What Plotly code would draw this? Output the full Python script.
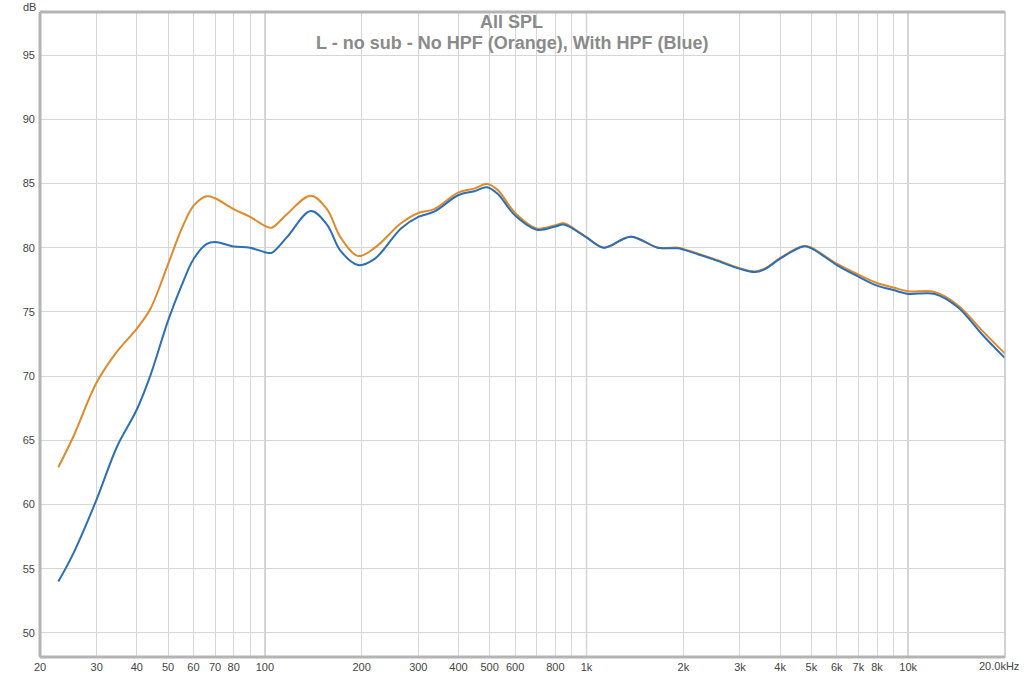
import plotly.graph_objects as go

# frequency points (Hz)
freq = [22.8, 25.4, 30, 34.7, 40, 44, 50, 55, 60, 66, 70, 80, 90, 100, 105, 117, 139, 156,
        172, 195, 220, 265, 300, 336, 400, 448, 490, 529, 600, 700, 800, 850, 1000, 1133,
        1371, 1667, 1923, 2000, 2504, 3000, 3336, 3600, 4000, 4721, 5000, 6000, 7000, 8000,
        9000, 10000, 12100, 14300, 16900, 20000]

# No HPF (orange)
spl_no_hpf = [62.9, 65.3, 69.5, 71.9, 73.7, 75.2, 78.7, 81.4, 83.25, 84.0, 83.85, 83.0, 82.4,
              81.7, 81.55, 82.6, 84.05, 83.0, 80.8, 79.35, 80.0, 81.9, 82.7, 83.0, 84.3, 84.6,
              84.95, 84.5, 82.7, 81.5, 81.75, 81.9, 80.8, 80.0, 80.86, 80.0, 80.0, 79.9, 79.1,
              78.4, 78.15, 78.4, 79.2, 80.13, 80.0, 78.75, 77.9, 77.25, 76.9, 76.6, 76.55,
              75.5, 73.6, 71.75]

# With HPF (blue)
spl_hpf = [54.0, 56.2, 60.4, 64.5, 67.4, 70.0, 74.3, 77.0, 79.1, 80.3, 80.45, 80.1, 80.0,
           79.65, 79.6, 80.8, 82.85, 81.8, 79.75, 78.65, 79.15, 81.5, 82.4, 82.8, 84.1, 84.4,
           84.7, 84.2, 82.5, 81.4, 81.65, 81.8, 80.8, 80.0, 80.86, 80.0, 79.95, 79.85, 79.05,
           78.35, 78.1, 78.35, 79.15, 80.1, 79.95, 78.65, 77.75, 77.05, 76.7, 76.4, 76.4,
           75.35, 73.3, 71.4]

x_grid = [20, 30, 40, 50, 60, 70, 80, 90, 100, 200, 300, 400, 500, 600, 700, 800, 900,
          1000, 2000, 3000, 4000, 5000, 6000, 7000, 8000, 9000, 10000, 20000]
x_text = ["20", "30", "40", "50", "60", "70", "80", "", "100", "200", "300", "400", "500",
          "600", "", "800", "", "1k", "2k", "3k", "4k", "5k", "6k", "7k", "8k", "", "10k", ""]
y_grid = [50, 55, 60, 65, 70, 75, 80, 85, 90, 95]
decades = [100, 1000, 10000]

fig = go.Figure()
fig.add_trace(go.Scatter(x=freq, y=spl_no_hpf, mode="lines", name="No HPF",
                         line=dict(color="#E08A2B", width=2, shape="spline", smoothing=1.0)))
fig.add_trace(go.Scatter(x=freq, y=spl_hpf, mode="lines", name="With HPF",
                         line=dict(color="#2C70B4", width=2, shape="spline", smoothing=1.0)))

# darker decade lines
for d in decades:
    fig.add_shape(type="line", xref="x", yref="paper", x0=d, x1=d, y0=0, y1=1,
                  line=dict(color="#9a9a9a", width=1.2), layer="below")

# frame
fig.add_shape(type="rect", xref="paper", yref="paper", x0=0, x1=1, y0=0, y1=1,
              line=dict(color="#c4c4c4", width=1.5))
for x0, y0, x1, y1 in [(0, 0, 0, 1), (0, 0, 1, 0), (0, 1, 1, 1)]:
    fig.add_shape(type="line", xref="paper", yref="paper", x0=x0, y0=y0, x1=x1, y1=y1,
                  line=dict(color="#b4b4b4", width=3))

title_font = dict(size=18, color="#8a8a8a", family="Liberation Sans")
fig.add_annotation(text="<b>All SPL</b>", xref="paper", yref="paper", x=0.489, y=0.9845,
                   showarrow=False, font=title_font, xanchor="center", yanchor="middle")
fig.add_annotation(text="<b>L - no sub - No HPF (Orange), With HPF (Blue)</b>", xref="paper",
                   yref="paper", x=0.489, y=0.952, showarrow=False, font=title_font,
                   xanchor="center", yanchor="middle")
fig.add_annotation(text="dB", xref="paper", yref="paper", x=-0.0104, y=1.0085, showarrow=False,
                   font=dict(size=11, color="#444", family="Liberation Sans"),
                   xanchor="center", yanchor="middle")
# last x label sits at the right edge
fig.add_annotation(text="20.0kHz", xref="paper", yref="paper", x=1, y=0, showarrow=False,
                   font=dict(size=11, color="#444", family="Liberation Sans"),
                   xanchor="center", yanchor="top", xshift=-6, yshift=-1)

fig.update_layout(
    width=1024, height=674,
    margin=dict(l=40, r=19, t=12, b=17),
    paper_bgcolor="white", plot_bgcolor="white",
    showlegend=False,
    font=dict(family="Liberation Sans", size=11, color="#444"),
    xaxis=dict(type="log", range=[1.30103, 4.30103], tickvals=x_grid, ticktext=x_text,
               showgrid=True, gridcolor="#d6d6d6", gridwidth=1, zeroline=False,
               ticks="", ticklabelstandoff=2, automargin=False, fixedrange=True),
    yaxis=dict(range=[48.13, 98.35], tickvals=y_grid, showgrid=True, gridcolor="#d6d6d6",
               gridwidth=1, zeroline=False, ticks="", ticklabelstandoff=4,
               automargin=False, fixedrange=True),
)

# drop the default body margin so the figure sits at the window corner
fig.write_html("out.html", config={"displayModeBar": False},
               post_script="document.body.style.margin='0';document.body.style.overflow='hidden';")
